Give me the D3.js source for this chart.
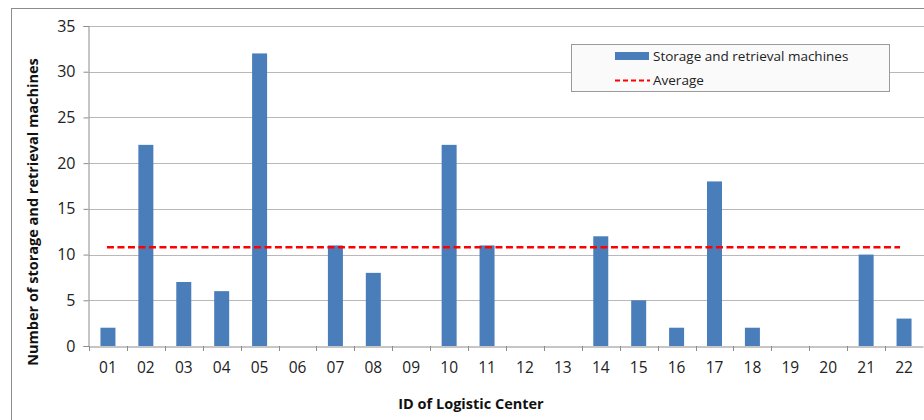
<!DOCTYPE html>
<html><head><meta charset="utf-8">
<script src="https://cdn.jsdelivr.net/npm/d3@7"></script>
<style>body{margin:0;background:#fff;} text{font-family:"Open Sans","Liberation Sans",sans-serif;}</style>
</head><body><svg id="c" width="924" height="420"></svg>
<script>
const categories = ["01","02","03","04","05","06","07","08","09","10","11","12","13","14","15","16","17","18","19","20","21","22"];
const machines = [2,22,7,6,32,0,11,8,0,22,11,0,0,12,5,2,18,2,0,0,10,3];
const averageValue = 10.81;
const yTicks = [0,5,10,15,20,25,30,35];
const legendLabels = ["Storage and retrieval machines","Average"];

const svg = d3.select("#c");
const m = {l:89, r:1, t:26, b:74};
const W = 924, H = 420;
const xb = d3.scaleBand().domain(categories).range([m.l, W - m.r]);
const y = d3.scaleLinear().domain([0,35]).range([H - m.b, m.t]);

// outer frame
svg.append("rect").attr("x",11.5).attr("y",8.5).attr("width",930).attr("height",430)
  .attr("fill","#fff").attr("stroke","#8c8c8c");

// gridlines
svg.append("g").selectAll("line").data(yTicks.filter(d=>d>0)).join("line")
  .attr("x1",m.l).attr("x2",W).attr("y1",d=>Math.round(y(d))+0.5).attr("y2",d=>Math.round(y(d))+0.5)
  .attr("stroke","#b8b8b8").attr("stroke-width",1);

// y axis
const ya = svg.append("g").attr("transform",`translate(${m.l-0.5},0)`)
  .call(d3.axisLeft(y).tickValues(yTicks).tickSize(5).tickPadding(8));
ya.select(".domain").attr("stroke","#8c8c8c");
ya.selectAll(".tick line").attr("stroke","#8c8c8c");
ya.selectAll("text").attr("font-size",16).attr("fill","#222");

// x axis
const xa = svg.append("g").attr("transform",`translate(0,${Math.round(y(0))+0.5})`)
  .call(d3.axisBottom(xb).tickSize(0).tickPadding(15));
xa.select(".domain").attr("stroke","#8c8c8c");
xa.selectAll("text").attr("font-size",15.5).attr("fill","#222");
svg.append("g").selectAll("line").data(categories).join("line")
  .attr("x1",d=>Math.round(xb(d))+0.5).attr("x2",d=>Math.round(xb(d))+0.5)
  .attr("y1",y(0)).attr("y2",y(0)+5).attr("stroke","#8c8c8c");

// bars
svg.append("g").selectAll("rect").data(categories).join("rect")
  .attr("x",(d)=>xb(d)+xb.bandwidth()/2-7.5).attr("width",15)
  .attr("y",(d,i)=>y(machines[i])).attr("height",(d,i)=>y(0)-y(machines[i]))
  .attr("fill","#4a7ebb");

// average line
svg.append("line")
  .attr("x1",xb(categories[0])+xb.bandwidth()/2-1).attr("x2",xb(categories[categories.length-1])+xb.bandwidth()/2-4)
  .attr("y1",y(averageValue)).attr("y2",y(averageValue))
  .attr("stroke","#ff0000").attr("stroke-width",2.5).attr("stroke-dasharray","7,3.5");

// axis titles
svg.append("text").attr("transform",`translate(38,212) rotate(-90)`)
  .attr("text-anchor","middle").attr("font-size",14.5).attr("font-weight","bold").attr("fill","#111")
  .text("Number of storage and retrieval machines");
svg.append("text").attr("x",471).attr("y",409).attr("text-anchor","middle")
  .attr("font-size",14.5).attr("font-weight","bold").attr("fill","#111").text("ID of Logistic Center");

// legend
const lg = svg.append("g");
lg.append("rect").attr("x",571.5).attr("y",44.5).attr("width",318).attr("height",47)
  .attr("fill","#fafafa").attr("stroke","#9a9a9a");
lg.append("rect").attr("x",615).attr("y",52).attr("width",34).attr("height",8).attr("fill","#4a7ebb");
lg.append("line").attr("x1",615).attr("x2",650).attr("y1",80.5).attr("y2",80.5)
  .attr("stroke","#ff0000").attr("stroke-width",2).attr("stroke-dasharray","5,3");
lg.selectAll("text.l").data(legendLabels).join("text").attr("class","l")
  .attr("x",653).attr("y",(d,i)=>56+i*24).attr("dy","0.35em")
  .attr("font-size",13.5).attr("fill","#222").text(d=>d);
</script></body></html>
